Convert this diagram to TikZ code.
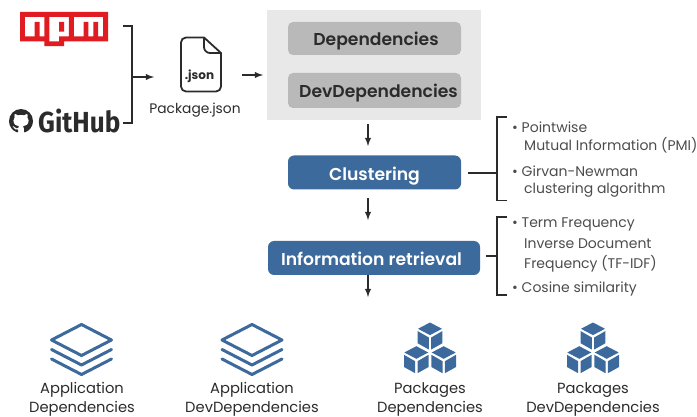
\documentclass[tikz,border=0pt]{standalone}
\usepackage{fontspec}
\setmainfont{Poppins}
\newfontfamily\logofont{Fira Sans}
\newfontfamily\mediumfont{Poppins SemiBold}
\usetikzlibrary{svg.path}
\definecolor{boxblue}{HTML}{3D6A9C}
\definecolor{panelgrey}{HTML}{E8E8E8}
\definecolor{pillgrey}{HTML}{B9B9B9}
\definecolor{inkdark}{HTML}{2B2B2B}
\definecolor{npmred}{HTML}{E01B22}
\tikzset{
  layers/.pic = {
    \draw[boxblue, line width=3pt, line join=round, line cap=round]
      (0,-15.5) -- (30,0) -- (0,15.5) -- (-30,0) -- cycle
      (-30,9.5) -- (0,25) -- (30,9.5)
      (-30,19) -- (0,34.5) -- (30,19);
  },
  onecube/.pic = {
    \fill[boxblue] (0,0) -- (12,6.3) -- (0,12.6) -- (-12,6.3) -- cycle
      (-12.3,8.6) -- (-1.2,15) -- (-1.2,27) -- (-12.3,20.8) -- cycle
      (12.3,8.6) -- (1.2,15) -- (1.2,27) -- (12.3,20.8) -- cycle;
  },
  cubes/.pic = {
    \pic at (0,0) {onecube};
    \pic at (-13.7,23.7) {onecube};
    \pic at (13.7,23.7) {onecube};
  }
}
\begin{document}
\begin{tikzpicture}[x=1pt, y=-1pt,
  every node/.style = {align=center, inner sep=0pt, text=inkdark},
  pill/.style = {fill=pillgrey, rounded corners=5pt, text height=18pt, text depth=3pt,
    font=\fontsize{17.2}{20}\mediumfont},
  bluebox/.style = {fill=boxblue, rounded corners=6pt, text=white, text height=18pt, text depth=2.5pt,
    font=\fontsize{17.2}{20}\mediumfont},
  note/.style = {anchor=base west, font=\fontsize{14}{16}\selectfont, text=black!70},
  caption/.style = {font=\fontsize{14.7}{18.5}\selectfont},
  link/.style = {draw=inkdark, line width=1.8pt},
  flow/.style = {link, -latex}]
  \useasboundingbox (0,0) rectangle (697,417);

  % npm logo
  \begin{scope}[x=3.667pt, y=-3.667pt, xshift=20pt, yshift=14.9pt]
    \fill[npmred, even odd rule]
      (0,7.334) -- (24,7.334) -- (24,15.334) -- (12,15.334) -- (12,16.666) -- (6.666,16.666) -- (6.666,15.334) -- (0,15.334) -- cycle
      (1.335,8.667) -- (6.666,8.667) -- (6.666,13.998) -- (5.334,13.998) -- (5.334,9.998) -- (3.999,9.998) -- (3.999,13.998) -- (1.335,13.998) -- cycle
      (8.001,8.667) -- (13.335,8.667) -- (13.335,13.998) -- (10.666,13.998) -- (10.666,15.334) -- (8.001,15.334) -- cycle
      (10.665,10) -- (12,10) -- (12,12.667) -- (10.665,12.667) -- cycle
      (14.667,8.667) -- (22.667,8.667) -- (22.667,13.998) -- (21.337,13.998) -- (21.337,9.998) -- (20.001,9.998) -- (20.001,13.998) -- (18.666,13.998) -- (18.666,9.998) -- (17.336,9.998) -- (17.336,13.998) -- (14.667,13.998) -- cycle;
  \end{scope}

  % GitHub logo
  \begin{scope}[xshift=9pt, yshift=-109pt, xscale=1.5, yscale=-1.5]
    \fill[inkdark] svg {M 8 0 C 3.58 0 0 3.58 0 8 c 0 3.54 2.29 6.53 5.47 7.59 c 0.4 0.07 0.55 -0.17 0.55 -0.38 c 0 -0.19 -0.01 -0.82 -0.01 -1.49 c -2.01 0.37 -2.53 -0.49 -2.69 -0.94 c -0.09 -0.23 -0.48 -0.94 -0.82 -1.13 c -0.28 -0.15 -0.68 -0.52 -0.01 -0.53 c 0.63 -0.01 1.08 0.58 1.23 0.82 c 0.72 1.21 1.87 0.87 2.33 0.66 c 0.07 -0.52 0.28 -0.87 0.51 -1.07 c -1.78 -0.2 -3.64 -0.89 -3.64 -3.95 c 0 -0.87 0.31 -1.59 0.82 -2.15 c -0.08 -0.2 -0.36 -1.02 0.08 -2.12 c 0 0 0.67 -0.21 2.2 0.82 c 0.64 -0.18 1.32 -0.27 2 -0.27 c 0.68 0 1.36 0.09 2 0.27 c 1.53 -1.04 2.2 -0.82 2.2 -0.82 c 0.44 1.1 0.16 1.92 0.08 2.12 c 0.51 0.56 0.82 1.27 0.82 2.15 c 0 3.07 -1.87 3.75 -3.65 3.95 c 0.29 0.25 0.54 0.73 0.54 1.48 c 0 1.07 -0.01 1.93 -0.01 2.2 c 0 0.21 0.15 0.46 0.55 0.38 C 13.71 14.53 16 11.53 16 8 c 0 -4.42 -3.58 -8 -8 -8 z};
  \end{scope}
  \node[font=\fontsize{29}{30}\logofont\bfseries, anchor=base west, xscale=0.9, transform shape] (github) at (38,132.5) {GitHub};

  % sources to the json file
  \coordinate (npmend) at (123,26);
  \coordinate (gitend) at (123,123);
  \coordinate (joinpt) at (132,77);
  \coordinate (filein) at (154,77);
  \coordinate (fileout) at (242,75);
  \coordinate (panelin) at (263,75);
  \draw[link] (npmend) -- (132,26) -- (132,123) -- (gitend);
  \draw[flow] (joinpt) -- (filein);

  % file icon
  \draw[inkdark, line width=1.8pt, line join=round]
    (204,37.5) -- (186,37.5) to[out=180,in=90] (181,42.5) -- (181,86.5) to[out=-90,in=180] (186,91.5)
    -- (216,91.5) to[out=0,in=-90] (221,86.5) -- (221,53) -- cycle;
  \draw[inkdark, line width=1.8pt, line join=round]
    (204,37.5) -- (204,47) to[out=-90,in=180] (210,53) -- (221,53);
  \node[font=\fontsize{12}{14}\selectfont\bfseries] (jsontag) at (199.5,76.5) {.json};
  \node[font=\fontsize{13.8}{16}\selectfont, anchor=base] (pkgfile) at (195,113.5) {Package.json};
  \draw[flow] (fileout) -- (panelin);

  % dependency panel
  \node[fill=panelgrey, minimum width=214pt, minimum height=110pt] (panel) at (374,65) {};
  \node[pill, minimum width=173pt, minimum height=33pt] (deps) at (374.5,38.5) {\hspace{3pt}Dependencies};
  \node[pill, minimum width=173pt, minimum height=35pt] (devdeps) at (374.5,90.5) {\hspace{8pt}DevDependencies};

  % pipeline
  \node[bluebox, minimum width=173pt, minimum height=34pt] (cluster) at (374.5,172.5) {Clustering};
  \node[bluebox, minimum width=212pt, minimum height=34pt] (inforet) at (374,258) {Information retrieval\hspace{5pt}};
  \coordinate (outa) at (368,124);
  \coordinate (ina) at (368,146);
  \coordinate (outb) at (368,198);
  \coordinate (inb) at (368,220);
  \coordinate (outc) at (368,275);
  \coordinate (inc) at (368,297);
  \draw[flow] (outa) -- (ina);
  \draw[flow] (outb) -- (inb);
  \draw[flow] (outc) -- (inc);

  % method brackets
  \coordinate (stema) at (497,173);
  \coordinate (stemb) at (497,256);
  \draw[link] (507,117) -- (497,117) -- (497,200.5) -- (507,200.5);
  \draw[link] (cluster.east |- stema) ++(7,0) -- (stema);
  \draw[link] (507,217) -- (497,217) -- (497,295) -- (507,295);
  \draw[link] (inforet.east |- stemb) ++(6,0) -- (stemb);

  \node[note] (pmia) at (512,133) {• Pointwise};
  \node[note] (pmib) at (524,150.7) {Mutual Information (PMI)};
  \node[note] (gna) at (512,176.7) {• Girvan-Newman};
  \node[note] (gnb) at (524,194) {clustering algorithm};
  \node[note] (tfa) at (512,228) {• Term Frequency};
  \node[note] (tfb) at (524,248.7) {Inverse Document};
  \node[note] (tfc) at (524,269) {Frequency (TF-IDF)};
  \node[note] (cosine) at (512,293) {• Cosine similarity};

  % outputs
  \pic at (81.5,340) {layers};
  \pic at (252,340) {layers};
  \pic at (430,322.5) {cubes};
  \pic at (593,322.5) {cubes};
  \node[caption] (appdeps) at (82,399.5) {Application\\Dependencies};
  \node[caption] (appdev) at (252,399.5) {Application\\DevDependencies};
  \node[caption] (pkgdeps) at (430,399.5) {Packages\\Dependencies};
  \node[caption] (pkgdev) at (593,399.5) {Packages\\DevDependencies};
\end{tikzpicture}
\end{document}
